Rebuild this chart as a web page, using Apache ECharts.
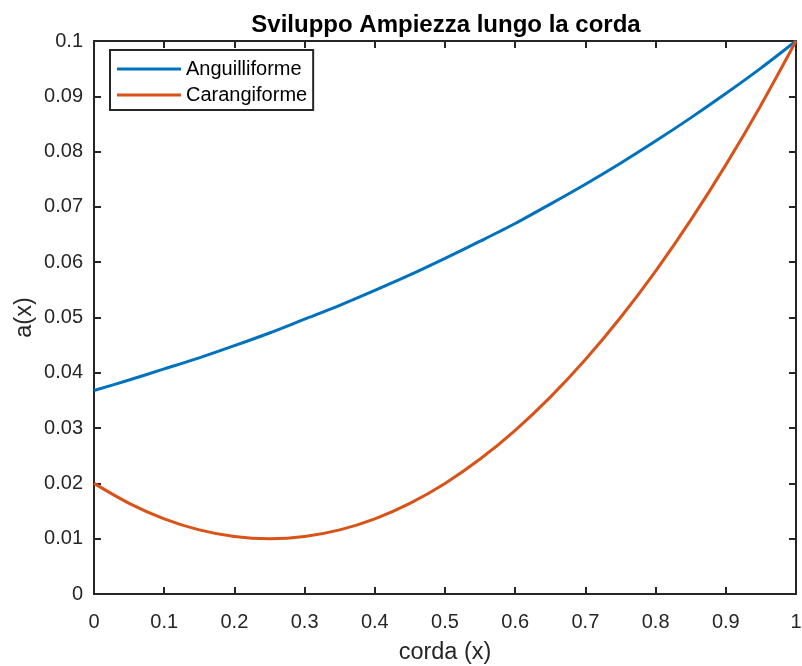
<!DOCTYPE html>
<html>
<head>
<meta charset="utf-8">
<script src="https://cdn.jsdelivr.net/npm/echarts@6/dist/echarts.min.js"></script>
<style>
  html, body { margin: 0; padding: 0; background: #fff; }
  #chart { width: 802px; height: 666px; }
</style>
</head>
<body>
<div id="chart"></div>
<script>
// Chord positions along the fin (x) and amplitude a(x) for the two swimming modes
const corda = [0, 0.05, 0.1, 0.15, 0.2, 0.25, 0.3, 0.35, 0.4, 0.45, 0.5,
               0.55, 0.6, 0.65, 0.7, 0.75, 0.8, 0.85, 0.9, 0.95, 1.0];
const anguilliforme = [0.0368, 0.0387, 0.0407, 0.0427, 0.0449, 0.0472, 0.0497, 0.0522,
                       0.0549, 0.0577, 0.0607, 0.0638, 0.0670, 0.0705, 0.0741, 0.0779,
                       0.0819, 0.0861, 0.0905, 0.0951, 0.1000];
const carangiforme = [0.0200, 0.0164, 0.0136, 0.0116, 0.0104, 0.0100, 0.0104, 0.0116,
                      0.0136, 0.0164, 0.0200, 0.0244, 0.0296, 0.0356, 0.0424, 0.0500,
                      0.0584, 0.0676, 0.0776, 0.0884, 0.1000];
const xTicks = [0, 0.1, 0.2, 0.3, 0.4, 0.5, 0.6, 0.7, 0.8, 0.9, 1];
const yTicks = [0, 0.01, 0.02, 0.03, 0.04, 0.05, 0.06, 0.07, 0.08, 0.09, 0.1];

const ink = '#262626';
const font = 'Liberation Sans, Arial, Helvetica, sans-serif';

function pairs(xs, ys) { return xs.map((x, i) => [x, ys[i]]); }
function fmt(v) { return String(parseFloat(v.toFixed(4))); }

// shared look of the four sides of the axes box
function boxAxis(extra) {
  return Object.assign({
    type: 'value',
    axisLine: { show: true, onZero: false, lineStyle: { color: ink, width: 2 } },
    axisTick: { show: true, inside: true, length: 7, lineStyle: { color: ink, width: 2 } },
    splitLine: { show: false }
  }, extra);
}

const xRange = { min: xTicks[0], max: xTicks[xTicks.length - 1], interval: xTicks[1] - xTicks[0] };
const yRange = { min: yTicks[0], max: yTicks[yTicks.length - 1], interval: yTicks[1] - yTicks[0] };

const chart = echarts.init(document.getElementById('chart'), null, { renderer: 'canvas' });
chart.setOption({
  animation: false,
  backgroundColor: '#ffffff',
  title: {
    text: 'Sviluppo Ampiezza lungo la corda',
    left: 441, top: 8, textAlign: 'center',
    textStyle: { fontFamily: font, fontSize: 24, fontWeight: 'bold', color: '#000' }
  },
  legend: {
    orient: 'vertical',
    left: 110, top: 50,
    padding: [9, 6, 5, 7],
    itemGap: 6,
    itemWidth: 64, itemHeight: 3,
    borderColor: ink, borderWidth: 2,
    backgroundColor: '#fff',
    icon: 'rect',
    textStyle: { fontFamily: font, fontSize: 20, color: '#000' },
    data: ['Anguilliforme', 'Carangiforme']
  },
  grid: { left: 94, right: 6, top: 41, bottom: 72, containLabel: false, outerBoundsMode: 'none' },
  xAxis: [
    boxAxis(Object.assign({
      position: 'bottom',
      name: 'corda (x)', nameLocation: 'middle', nameGap: 47,
      nameTextStyle: { fontFamily: font, fontSize: 23.5, color: ink },
      axisLabel: { fontFamily: font, fontSize: 20, color: ink, margin: 18, formatter: fmt }
    }, xRange)),
    boxAxis(Object.assign({ position: 'top', axisLabel: { show: false } }, xRange))
  ],
  yAxis: [
    boxAxis(Object.assign({
      position: 'left',
      name: 'a(x)', nameLocation: 'middle', nameGap: 57, nameRotate: 90, nameMoveOverlap: false,
      nameTextStyle: { fontFamily: font, fontSize: 23.5, color: ink },
      axisLabel: { fontFamily: font, fontSize: 20, color: ink, margin: 11, padding: [3, 0, 0, 0], formatter: fmt }
    }, yRange)),
    boxAxis(Object.assign({ position: 'right', axisLabel: { show: false } }, yRange))
  ],
  series: [
    {
      name: 'Anguilliforme', type: 'line', smooth: 0.3, symbol: 'none',
      data: pairs(corda, anguilliforme),
      itemStyle: { color: '#0072BD' },
      lineStyle: { color: '#0072BD', width: 3 }
    },
    {
      name: 'Carangiforme', type: 'line', smooth: 0.3, symbol: 'none',
      data: pairs(corda, carangiforme),
      itemStyle: { color: '#D95319' },
      lineStyle: { color: '#D95319', width: 3 }
    }
  ]
});
</script>
</body>
</html>
